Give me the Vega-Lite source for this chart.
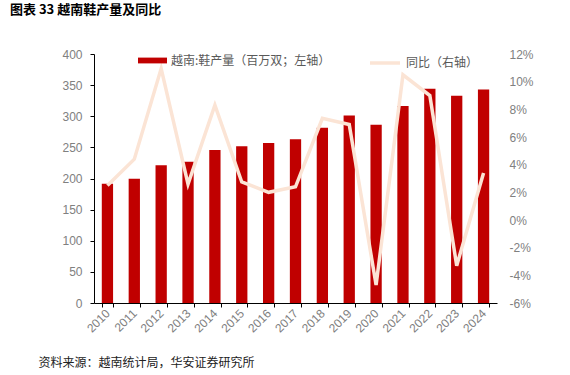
{
  "$schema": "https://vega.github.io/schema/vega-lite/v6.json",
  "autosize": "none",
  "width": 403,
  "height": 249,
  "padding": {"left": 94, "top": 54, "right": 73, "bottom": 72},
  "background": "white",
  "config": {
    "view": {"stroke": null},
    "font": "Liberation Sans"
  },
  "title": {
    "text": "图表 33  越南鞋产量及同比",
    "anchor": "start",
    "frame": "group",
    "dx": -84,
    "offset": 29,
    "font": "Noto Sans CJK SC",
    "fontSize": 13,
    "fontWeight": "bold",
    "color": "#000000"
  },
  "data": {
    "values": [
      {"year": "2010", "output": 191.5, "yoy": 2.5},
      {"year": "2011", "output": 199.5, "yoy": 4.4},
      {"year": "2012", "output": 221.3, "yoy": 10.95},
      {"year": "2013", "output": 227.0, "yoy": 2.6},
      {"year": "2014", "output": 245.9, "yoy": 8.3},
      {"year": "2015", "output": 251.7, "yoy": 2.75},
      {"year": "2016", "output": 257.0, "yoy": 2.0},
      {"year": "2017", "output": 263.0, "yoy": 2.4},
      {"year": "2018", "output": 281.6, "yoy": 7.35},
      {"year": "2019", "output": 301.3, "yoy": 6.9},
      {"year": "2020", "output": 286.4, "yoy": -4.7},
      {"year": "2021", "output": 316.3, "yoy": 10.5},
      {"year": "2022", "output": 344.0, "yoy": 9.0},
      {"year": "2023", "output": 332.8, "yoy": -3.3},
      {"year": "2024", "output": 343.0, "yoy": 3.4}
    ]
  },
  "encoding": {
    "x": {
      "field": "year",
      "type": "nominal",
      "sort": null,
      "scale": {"paddingInner": 0.58, "paddingOuter": 0.29},
      "axis": {
        "title": "资料来源：越南统计局，华安证券研究所",
        "titleFont": "Noto Sans CJK SC",
        "titleFontSize": 12,
        "titleFontWeight": "normal",
        "titleColor": "#222222",
        "titleAnchor": "start",
        "titleAlign": "left",
        "titleBaseline": "middle",
        "titleX": -56,
        "titleY": 59,
        "labelAngle": -45,
        "labelAlign": "right",
        "labelBaseline": "middle",
        "labelFontSize": 12,
        "labelColor": "#808080",
        "labelPadding": 4,
        "domainColor": "#000000",
        "tickColor": "#000000",
        "tickSize": 4,
        "tickBand": "extent",
        "grid": false
      }
    }
  },
  "layer": [
    {
      "mark": {"type": "bar", "color": "#C00000"},
      "encoding": {
        "y": {
          "field": "output",
          "type": "quantitative",
          "scale": {"domain": [0, 400], "nice": false},
          "axis": {
            "title": null,
            "values": [0, 50, 100, 150, 200, 250, 300, 350, 400],
            "labelFontSize": 12,
            "labelColor": "#808080",
            "labelPadding": 8,
            "domainColor": "#000000",
            "tickColor": "#000000",
            "tickSize": 4,
            "grid": false
          }
        },
        "fill": {
          "datum": "越南:鞋产量（百万双；左轴）",
          "scale": {"range": ["#C00000"]},
          "legend": {
            "title": null,
            "orient": "none",
            "legendX": 44,
            "legendY": -8,
            "symbolType": "M-1,-0.2H1V0.2H-1Z",
            "symbolSize": 841,
            "symbolStrokeWidth": 0,
            "labelFont": "Noto Sans CJK SC",
            "labelFontSize": 12,
            "labelColor": "#595959",
            "labelOffset": 4
          }
        }
      }
    },
    {
      "mark": {"type": "line", "strokeWidth": 3.5, "color": "#FBE4D5"},
      "encoding": {
        "y": {
          "field": "yoy",
          "type": "quantitative",
          "scale": {"domain": [-6, 12], "nice": false},
          "axis": {
            "title": null,
            "orient": "right",
            "values": [-6, -4, -2, 0, 2, 4, 6, 8, 10, 12],
            "labelExpr": "datum.value + '%'",
            "labelFontSize": 12,
            "labelColor": "#808080",
            "labelPadding": 12,
            "domain": false,
            "ticks": false,
            "grid": false
          }
        },
        "stroke": {
          "datum": "同比（右轴）",
          "scale": {"range": ["#FBE4D5"]},
          "legend": {
            "title": null,
            "orient": "none",
            "legendX": 274,
            "legendY": -8,
            "symbolType": "stroke",
            "symbolSize": 900,
            "symbolStrokeWidth": 3.5,
            "labelFont": "Noto Sans CJK SC",
            "labelFontSize": 12,
            "labelColor": "#595959",
            "labelOffset": 4
          }
        }
      }
    }
  ],
  "resolve": {"scale": {"y": "independent"}}
}
